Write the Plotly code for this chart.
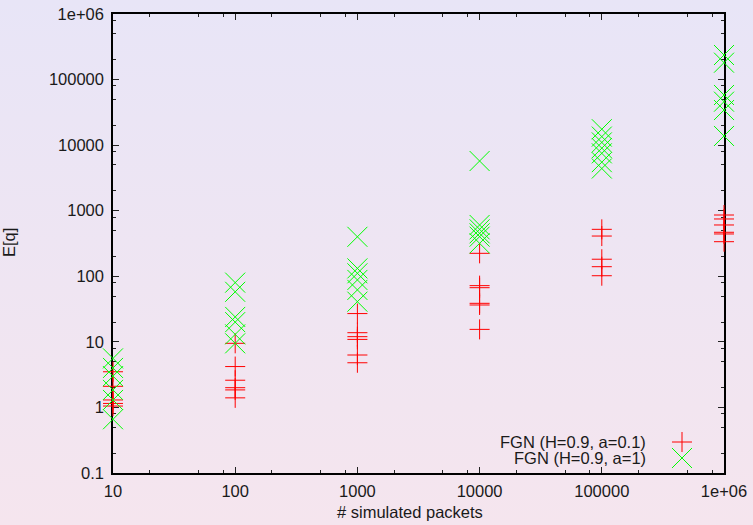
import base64
import plotly.graph_objects as go

# Number of simulated packets for each experiment batch
packets = [10, 100, 1000, 10000, 100000, 1000000]

# Mean queue length E[q] per run, grouped by packet count
fgn_a01 = [
    [3.5, 2.1, 1.3, 1.15, 1.05],
    [9.5, 4.2, 2.6, 2.0, 1.85, 1.4],
    [27, 13.8, 12, 10.9, 6.3, 4.8],
    [224, 72, 67, 38.7, 36.5, 15.5],
    [520, 411, 182, 140, 102],
    [860, 748, 606, 469, 442, 337],
]
fgn_a1 = [
    [5.6, 4.0, 3.0, 1.85, 1.3, 0.66],
    [80, 58, 24, 20, 13, 9.5],
    [400, 132, 111, 88, 62, 41],
    [5730, 606, 520, 452, 402, 318],
    [17500, 13500, 11000, 9000, 7500, 5500, 4400],
    [237000, 181000, 58200, 46000, 34300, 13800],
]

series_names = ["FGN (H=0.9, a=0.1)", "FGN (H=0.9, a=1)"]

y_tickvals = [0.1, 1, 10, 100, 1000, 10000, 100000, 1000000]
y_ticktext = ["0.1", "1", "10", "100", "1000", "10000", "100000", "1e+06"]
x_tickvals = [10, 100, 1000, 10000, 100000, 1000000]
x_ticktext = ["10", "100", "1000", "10000", "100000", "1e+06"]

W, H = 753, 525
L, R, T, B = 113, 29, 14, 52
PW, PH = W - L - R, H - T - B

FONT = dict(family="Liberation Sans, Arial, sans-serif", size=16.5, color="#1a1a1a")
RED = "#ff0000"
GREEN = "#00ff00"


def flatten(groups):
    xs, ys = [], []
    for p, vals in zip(packets, groups):
        xs += [p] * len(vals)
        ys += vals
    return xs, ys


def minor_vals(lo_exp, hi_exp):
    out = []
    for e in range(lo_exp, hi_exp):
        for m in (2, 5, 8):
            out.append(m * 10 ** e)
    return out


fig = go.Figure()

x1, y1 = flatten(fgn_a01)
x2, y2 = flatten(fgn_a1)

fig.add_trace(go.Scatter(
    x=x1, y=y1, mode="markers", name=series_names[0], cliponaxis=False,
    marker=dict(symbol="cross-thin", size=14.3, color=RED,
                line=dict(color=RED, width=1)),
))
fig.add_trace(go.Scatter(
    x=x2, y=y2, mode="markers", name=series_names[1], cliponaxis=False,
    marker=dict(symbol="x-thin", size=20, color=GREEN,
                line=dict(color=GREEN, width=1)),
))

# Key samples drawn on an overlay axis so the text sits left of the symbol
key_x = (682 - L) / PW
key_y = [(T + PH - 442) / PH, (T + PH - 458) / PH]
fig.add_trace(go.Scatter(
    x=[key_x], y=[key_y[0]], xaxis="x2", yaxis="y2", mode="markers",
    showlegend=False, cliponaxis=False, hoverinfo="skip",
    marker=dict(symbol="cross-thin", size=14.3, color=RED,
                line=dict(color=RED, width=1)),
))
fig.add_trace(go.Scatter(
    x=[key_x], y=[key_y[1]], xaxis="x2", yaxis="y2", mode="markers",
    showlegend=False, cliponaxis=False, hoverinfo="skip",
    marker=dict(symbol="x-thin", size=20, color=GREEN,
                line=dict(color=GREEN, width=1)),
))

# Soft vertical background gradient behind the whole figure
svg = (
    f'<svg xmlns="http://www.w3.org/2000/svg" width="{W}" height="{H}" '
    f'preserveAspectRatio="none"><defs><linearGradient id="g" x1="0" y1="0" '
    f'x2="0" y2="1"><stop offset="0" stop-color="#E8E5F7"/>'
    f'<stop offset="1" stop-color="#F5E5EE"/></linearGradient></defs>'
    f'<rect width="{W}" height="{H}" fill="url(#g)"/></svg>'
)
bg_uri = "data:image/svg+xml;base64," + base64.b64encode(svg.encode()).decode()

axis_common = dict(
    type="log", showgrid=False, zeroline=False, automargin=False,
    showline=True, linecolor="black", linewidth=1.5, mirror="ticks",
    ticks="inside", ticklen=6, tickwidth=1.3, tickcolor="#222222",
    tickfont=FONT, layer="below traces",
)

fig.update_layout(
    width=W, height=H,
    margin=dict(l=L, r=R, t=T, b=B, pad=0),
    paper_bgcolor="rgba(0,0,0,0)", plot_bgcolor="rgba(0,0,0,0)",
    showlegend=False,
    xaxis=dict(
        range=[1, 6], tickmode="array", tickvals=x_tickvals, ticktext=x_ticktext,
        minor=dict(tickmode="array", tickvals=minor_vals(1, 6), ticks="inside",
                   ticklen=3.5, tickwidth=1.2, tickcolor="#222222"),
        ticklabelstandoff=2,
        **axis_common,
    ),
    yaxis=dict(
        range=[-1, 6], tickmode="array", tickvals=y_tickvals, ticktext=y_ticktext,
        minor=dict(tickmode="array", tickvals=minor_vals(-1, 6), ticks="inside",
                   ticklen=3.5, tickwidth=1.2, tickcolor="#222222"),
        ticklabelstandoff=4,
        **axis_common,
    ),
    xaxis2=dict(range=[0, 1], overlaying="x", visible=False, fixedrange=True),
    yaxis2=dict(range=[0, 1], overlaying="y", visible=False, fixedrange=True),
    images=[dict(
        source=bg_uri, xref="paper", yref="paper",
        x=-L / PW, y=1 + T / PH, sizex=W / PW, sizey=H / PH,
        xanchor="left", yanchor="top", sizing="stretch", layer="below",
    )],
    annotations=[
        dict(text="E[q]", xref="paper", yref="paper", x=(9 - L) / PW,
             y=(T + PH - 243) / PH, textangle=-90, showarrow=False,
             xanchor="center", yanchor="middle", font=FONT),
        dict(text="# simulated packets", xref="paper", yref="paper",
             x=(410 - L) / PW, y=(T + PH - 512) / PH, showarrow=False,
             xanchor="center", yanchor="middle", font=FONT),
        dict(text=series_names[0], xref="paper", yref="paper",
             x=(648 - L) / PW, y=key_y[0], showarrow=False,
             xanchor="right", yanchor="middle", font=FONT),
        dict(text=series_names[1], xref="paper", yref="paper",
             x=(648 - L) / PW, y=key_y[1], showarrow=False,
             xanchor="right", yanchor="middle", font=FONT),
    ],
)

fig.write_html("out.html")
